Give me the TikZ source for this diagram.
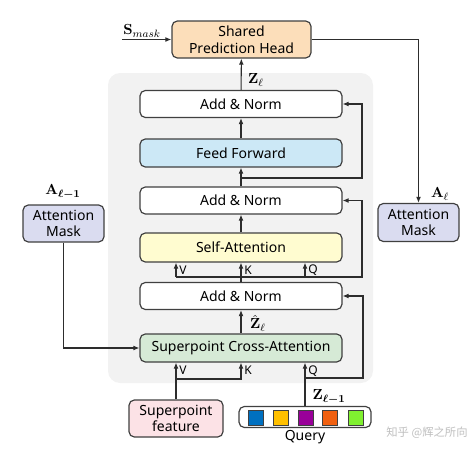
\documentclass[tikz,border=0pt]{standalone}
\usepackage{amsmath,bm}
\usepackage[no-math]{fontspec}
\setmainfont{Noto Sans}
\newfontfamily\cjk{Noto Sans CJK SC}
\usetikzlibrary{arrows.meta}
\definecolor{headc}{RGB}{252,222,186}
\definecolor{ffc}{RGB}{204,232,246}
\definecolor{sac}{RGB}{255,252,208}
\definecolor{cac}{RGB}{214,234,214}
\definecolor{maskc}{RGB}{218,220,240}
\definecolor{spc}{RGB}{252,226,230}
\definecolor{bgc}{RGB}{242,242,242}
\definecolor{bordc}{RGB}{64,64,64}
\definecolor{linec}{RGB}{45,45,45}
\definecolor{qa}{RGB}{0,112,192}
\definecolor{qb}{RGB}{255,192,0}
\definecolor{qc}{RGB}{153,0,153}
\definecolor{qd}{RGB}{240,96,16}
\definecolor{qe}{RGB}{128,240,48}
\tikzset{
  box/.style={draw=bordc, fill=white, line width=0.9pt, rounded corners=4pt, minimum width=202*0.75pt,
    minimum height=27*0.75pt, inner sep=0pt, align=center, font=\fontsize{10.5}{12.5}\selectfont},
  arr/.style={draw=linec, line width=0.8pt, -{Latex[length=4.5pt,width=3.6pt]}},
  ln/.style={draw=linec, line width=0.8pt},
  lbl/.style={font=\fontsize{9}{10}\selectfont, inner sep=1pt},
  mlbl/.style={font=\fontsize{11}{12}\selectfont, inner sep=0pt},
  sq/.style={draw=bordc, line width=0.6pt, minimum size=15*0.75pt, inner sep=0pt},
}
\begin{document}
\begin{tikzpicture}[x=0.75pt,y=-0.75pt]
\useasboundingbox (0,0) rectangle (476,454);
\fill[bgc, rounded corners=9pt] (108,73) rectangle (373,383);
% blocks
\node[box] (an1) at (241,104) {Add \& Norm};
\node[box, fill=ffc, minimum height=28*0.75pt] (ff) at (241,153) {Feed Forward};
\node[box] (an2) at (241,200.5) {Add \& Norm};
\node[box, fill=sac, minimum height=29*0.75pt] (sa) at (241,247.5) {Self-Attention};
\node[box] (an3) at (241,296) {Add \& Norm};
\node[box, fill=cac, minimum height=28*0.75pt] (ca) at (241,348) {Superpoint Cross-Attention};
\node[box, fill=headc, minimum width=139*0.75pt, minimum height=37*0.75pt] (head) at (241.5,39.5) {Shared\\Prediction Head};
\node[box, fill=maskc, minimum width=81*0.75pt, minimum height=38*0.75pt] (maskR) at (418.5,222.5) {Attention\\Mask};
\node[box, fill=maskc, minimum width=81*0.75pt, minimum height=37*0.75pt] (maskL) at (63.5,223.5) {Attention\\Mask};
\node[box, fill=spc, minimum width=94*0.75pt, minimum height=37*0.75pt] (sp) at (176,418.5) {Superpoint\\feature};
\node[box, fill=white, minimum width=132*0.75pt, minimum height=21*0.75pt] (query) at (305,417) {};
\node[sq, fill=qa] (q1) at (255.5,417.5) {};
\node[sq, fill=qb] (q2) at (280.5,417.5) {};
\node[sq, fill=qc] (q3) at (305.5,417.5) {};
\node[sq, fill=qd] (q4) at (330,417.5) {};
\node[sq, fill=qe] (q5) at (355.5,417.5) {};
\node[font=\fontsize{10.5}{12}\selectfont] (qlab) at (305,437) {Query};
% main flow
\draw[arr] (an1) -- (head);
\draw[arr] (ff) -- (an1);
\draw[arr] (an2) -- (ff);
\draw[arr] (sa) -- (an2);
\draw[arr] (an3) -- (sa);
\draw[arr] (ca) -- (an3);
% head connections
\coordinate (smask) at (122,39.5);
\draw[arr] (smask) -- (head.west);
\draw[arr] (head.east) -| (maskR.north);
% residual for an1
\coordinate (r1) at (241,178);
\draw[arr] (r1) -- ++(121,0) |- (an1.east);
% self-attention inputs
\coordinate (vkq) at (241,277);
\coordinate (vsa) at (176,277);
\coordinate (qsa) at (305,277);
\draw[ln] (vsa) -- (qsa);
\draw[arr] (qsa) -- ++(57,0) |- (an2.east);
\draw[arr] (vsa) -- (vsa |- sa.south);
\draw[arr] (qsa) -- (qsa |- sa.south);
% cross-attention inputs
\draw[arr] (sp.north) -- (sp.north |- ca.south);
\coordinate (vca) at (176,379);
\draw[arr] (vca) -| (ca.south);
\draw[arr] (query.north) -- (query.north |- ca.south);
\coordinate (qca) at (305,378);
\draw[arr] (qca) -- ++(58,0) |- (an3.east);
\draw[arr] (maskL.south) |- (ca.west);
% labels
\node[lbl] (lv1) at (183,270) {V};
\node[lbl] (lk1) at (248,270) {K};
\node[lbl] (lq1) at (313,270) {Q};
\node[lbl] (lv2) at (183,370) {V};
\node[lbl] (lk2) at (248,370) {K};
\node[lbl] (lq2) at (313,371) {Q};
\node[mlbl] (zl) at (256,80) {$\mathbf{Z}_{\ell}$};
\node[mlbl] (zh) at (258,323) {$\hat{\mathbf{Z}}_{\ell}$};
\node[mlbl] (zl1) at (329,397) {$\mathbf{Z}_{\bm{\ell-1}}$};
\node[mlbl] (sm) at (142,31) {$\mathbf{S}_{mask}$};
\node[mlbl] (al1) at (63,192) {$\mathbf{A}_{\bm{\ell-1}}$};
\node[mlbl] (al) at (440,194) {$\mathbf{A}_{\ell}$};
\node[text=black!25, font=\cjk\fontsize{8.5}{10}\selectfont, inner sep=0pt] (wm) at (427,433) {知乎 @辉之所向};
\end{tikzpicture}
\end{document}
